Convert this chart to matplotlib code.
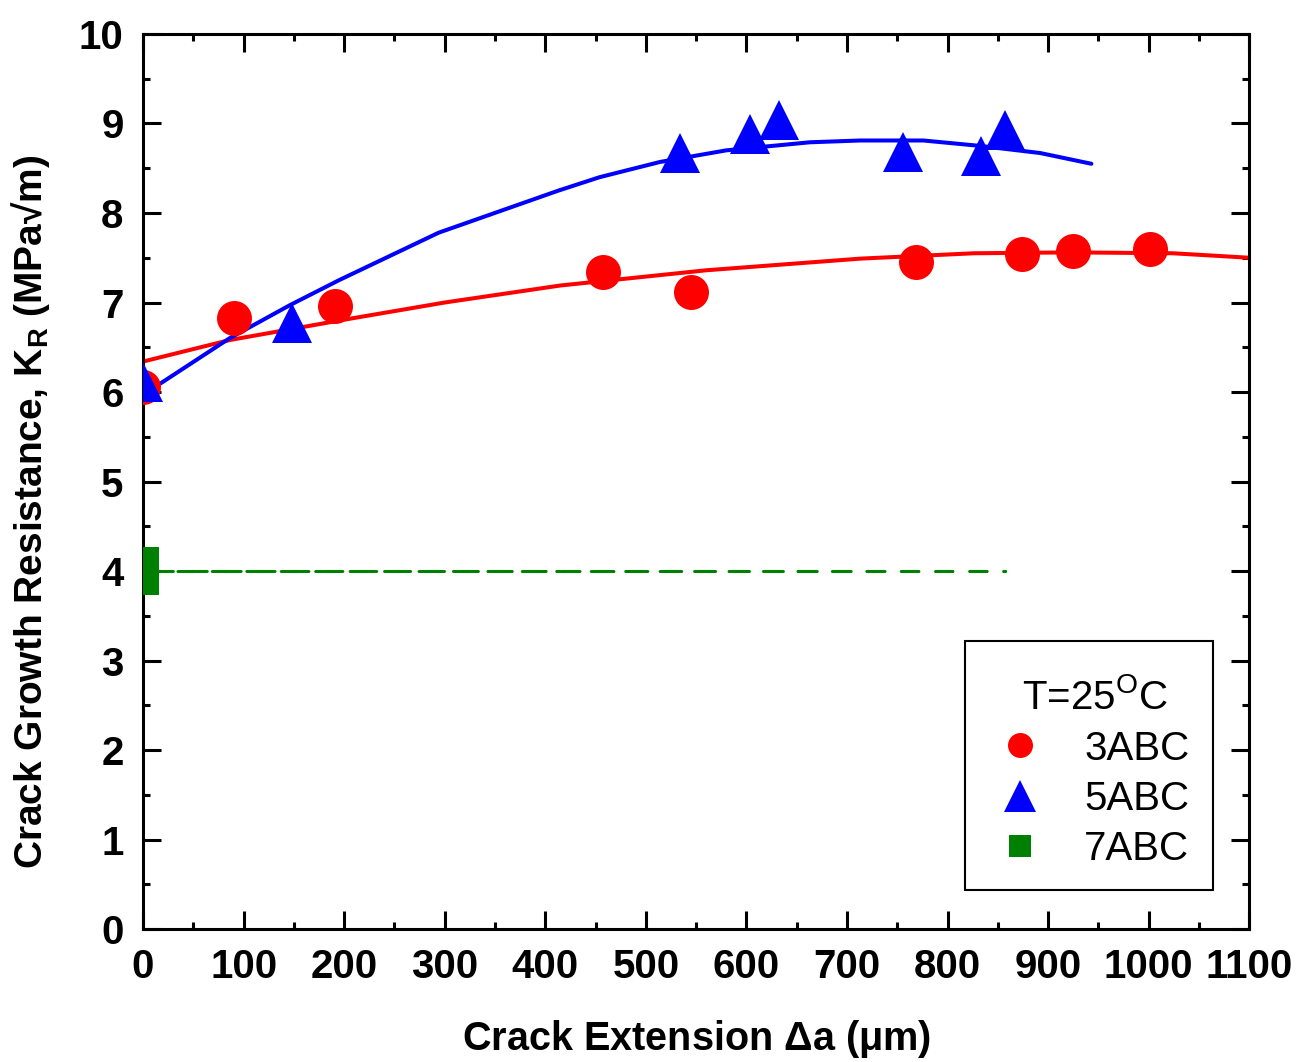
import matplotlib
matplotlib.use("Agg")
import matplotlib.pyplot as plt
from matplotlib.lines import Line2D
from matplotlib.patches import Rectangle
from matplotlib.ticker import MultipleLocator

plt.rcParams['font.family'] = ['Liberation Sans', 'DejaVu Sans']
plt.rcParams['mathtext.default'] = 'regular'
plt.rcParams['lines.scale_dashes'] = False

# data
x_3abc = [0, 90, 191, 457, 545, 769, 874, 925, 1001]
y_3abc = [6.06, 6.83, 6.96, 7.34, 7.12, 7.45, 7.54, 7.57, 7.60]

x_5abc = [0, 148, 534, 604, 632, 756, 833, 857]
y_5abc = [6.11, 6.77, 8.67, 8.88, 9.04, 8.68, 8.64, 8.93]

x_7abc = [-8]
y_7abc = [4.0]

# fitted curves (traced)
fit3_x = [0, 86, 196, 300, 415, 560, 713, 826, 925, 1024, 1100]
fit3_y = [6.34, 6.58, 6.80, 7.00, 7.19, 7.36, 7.49, 7.55, 7.56, 7.55, 7.50]
fit5_x = [3, 86, 146, 195, 294, 413, 454, 514, 580, 663, 713, 776, 832, 892, 943]
fit5_y = [5.99, 6.60, 6.97, 7.25, 7.78, 8.25, 8.40, 8.57, 8.70, 8.79, 8.81, 8.81, 8.75, 8.67, 8.55]
fit7_x = [0, 857]
fit7_y = [4.0, 4.0]

fig = plt.figure(figsize=(13, 10.62), dpi=100)
ax = fig.add_axes([0.110, 0.1252, 0.851, 0.8428])

ax.plot(fit3_x, fit3_y, color='red', lw=2.9, solid_capstyle='round', zorder=2)
ax.plot(fit5_x, fit5_y, color='blue', lw=2.9, solid_capstyle='round', zorder=2)
# dashed line for 7ABC (two overlapping dash patterns)
ax.plot(fit7_x, fit7_y, color='green', lw=2.2, dash_capstyle='round',
        linestyle=(0, (12.2, 12.6)), zorder=2)
ax.plot(fit7_x, fit7_y, color='green', lw=2.2, dash_capstyle='round',
        linestyle=(15.1, (12.2, 12.2)), zorder=2)

ax.plot(x_3abc, y_3abc, 'o', color='red', ms=25.2, mew=0, zorder=3)
ax.plot(x_5abc, y_5abc, '^', color='blue', ms=28.8, mew=0, zorder=3)
ax.plot(x_7abc, y_7abc, 's', color='green', ms=35, mew=0, zorder=3)

ax.set_xlim(0, 1100)
ax.set_ylim(0, 10)
ax.xaxis.set_major_locator(MultipleLocator(100))
ax.xaxis.set_minor_locator(MultipleLocator(50))
ax.yaxis.set_major_locator(MultipleLocator(1))
ax.yaxis.set_minor_locator(MultipleLocator(0.5))

for s in ax.spines.values():
    s.set_linewidth(2.2)
ax.tick_params(which='both', direction='in', top=True, right=True, width=2.2)
ax.tick_params(which='major', length=13, labelsize=29, pad=14)
ax.tick_params(which='minor', length=5)
for lab in ax.get_xticklabels() + ax.get_yticklabels():
    lab.set_fontweight('bold')

ax.set_xlabel(r'Crack Extension $\Delta$a ($\mu$m)', fontsize=28.5, fontweight='bold', labelpad=23)
ax.set_ylabel('Crack Growth Resistance, K$_R$ (MPa\u221am)', fontsize=28, fontweight='bold')
ax.yaxis.set_label_coords(-0.082, 0.466)

handles = [
    Line2D([], [], ls='none', marker='o', color='red', ms=18, mew=0),
    Line2D([], [], ls='none', marker='^', color='blue', ms=23, mew=0),
    Line2D([], [], ls='none', marker='s', color='green', ms=16, mew=0),
]
leg = ax.legend(handles, ['3ABC', '5ABC', '7ABC'], title='T=25$^O$C',
                loc='lower right', bbox_to_anchor=(0.9715, 0.037),
                borderaxespad=0, fontsize=29, title_fontsize=29,
                frameon=False, handlelength=1.0, handletextpad=1.1,
                labelspacing=0.3, borderpad=0.7)
ax.add_patch(Rectangle((0.7432, 0.0436), 0.2242, 0.2782, transform=ax.transAxes,
                       fill=False, edgecolor='black', lw=1.5, zorder=4))

fig.savefig('out.png', dpi=100)
